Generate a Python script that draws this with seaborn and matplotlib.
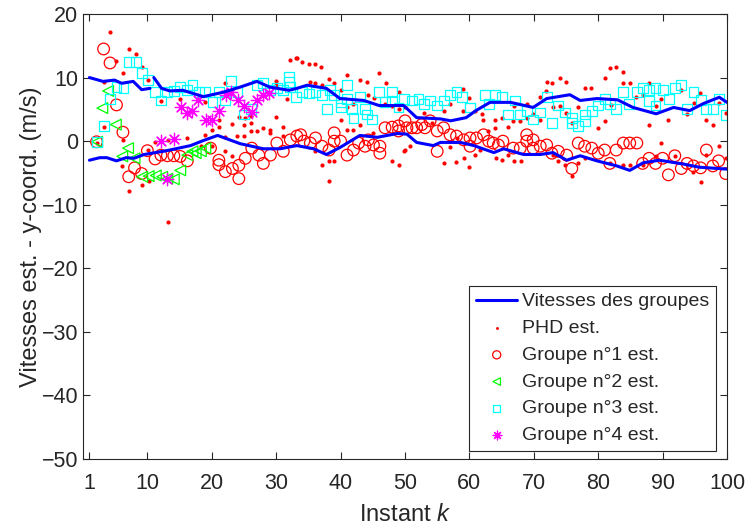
import matplotlib
matplotlib.use("Agg")
import matplotlib.pyplot as plt
import seaborn as sns

# group velocity lines (3 segments)
line_a_k = [1.0, 3.1, 4.9, 6.0, 7.8, 9.1, 10.4]
line_a_y = [10.0, 9.4, 9.6, 9.1, 9.4, 8.1, 8.3]
line_b_k = [11.0, 12.2, 13.5, 15.5, 17.1, 18.7, 21.8, 24.4, 27.0, 29.0, 32.0, 33.2, 34.8, 37.8, 39.9,
            43.6, 46.0, 49.8, 51.8, 55.5, 57.1, 59.5, 61.0, 63.2, 66.4, 69.9, 72.0, 75.6, 77.2, 79.8,
            83.0, 85.4, 89.0, 91.7, 94.2, 96.3, 98.8, 100.0]
line_b_y = [10.0, 8.3, 7.9, 8.0, 7.5, 7.0, 7.7, 8.5, 9.4, 8.5, 8.0, 8.3, 8.8, 8.3, 6.7,
            6.4, 5.6, 5.6, 3.7, 3.5, 3.2, 3.7, 4.8, 6.1, 6.1, 5.3, 6.7, 7.3, 6.4, 6.7,
            6.5, 5.3, 4.3, 5.3, 4.8, 5.9, 6.9, 6.1]
line_c_k = [1.0, 2.6, 3.7, 5.2, 6.7, 7.9, 9.5, 13.0, 16.7, 18.7, 20.9, 24.4, 28.0, 30.6, 33.2,
            35.8, 37.8, 39.9, 43.0, 45.7, 48.8, 50.3, 51.8, 54.4, 55.5, 58.6, 60.7, 63.8, 65.3,
            68.4, 71.0, 73.0, 75.1, 77.2, 79.8, 82.9, 84.9, 87.0, 89.5, 93.2, 95.7, 100.0]
line_c_y = [-3.0, -2.6, -2.6, -3.1, -2.6, -2.7, -2.1, -1.5, -0.7, 0.1, 0.9, -0.4, -1.2, -1.2, -0.7,
            -1.2, -2.1, -1.0, 0.9, 0.6, 1.2, 1.1, -0.2, -0.7, -0.2, -0.2, -0.7, -1.8, -1.2,
            -2.1, -2.1, -1.8, -3.0, -2.3, -3.1, -3.9, -4.6, -3.4, -3.0, -3.6, -4.1, -4.4]

# PHD estimates
phd_k = [4.2, 7.1, 8.2, 5.2, 9.2, 6.2, 3.2, 10.1, 12.1, 15.1, 3.2, 6.2, 2.1, 11.2, 13.2, 16.2, 10.1, 6.1,
         9.2, 7.1, 10.2, 13.2,
         32.2, 33.1, 22.1, 30.0, 30.0, 19.0, 31.7, 24.2, 26.1, 25.2, 21.1, 21.1, 20.1, 23.2, 25.0, 26.1,
         30.0, 31.0, 28.0, 29.1, 27.0, 26.1, 19.0, 22.1, 23.9, 25.0, 31.1, 23.2, 22.1, 18.3, 20.1, 29.1,
         33.3, 34.0, 35.1, 36.1, 37.0, 35.3, 36.1, 37.1, 38.2, 39.0, 41.0, 43.0, 44.1, 46.0, 47.1, 49.0,
         44.3, 45.2, 46.9, 48.0, 49.0, 40.0, 41.0, 42.0, 43.0, 40.0, 41.0, 42.0, 45.0, 50.0, 48.0, 49.0,
         37.1, 38.2, 39.0, 36.1, 38.2,
         59.0, 60.0, 50.0, 52.9, 56.0, 57.0, 59.0, 60.9, 61.9, 62.1, 64.0, 65.0, 66.0, 54.2, 62.9, 64.0,
         50.8, 49.8, 57.0, 64.1, 65.0, 59.1, 60.9, 56.0, 57.9, 60.0, 61.6, 66.0, 58.0,
         81.8, 82.8, 81.0, 72.0, 72.9, 74.0, 75.0, 71.9, 77.9, 78.9, 71.0, 68.9, 66.9, 66.8, 67.9, 68.9,
         69.8, 70.9, 73.0, 74.0, 75.0, 76.0, 76.9, 79.9, 81.0, 82.0, 66.9, 68.0, 73.8, 74.8, 76.9, 75.9,
         77.9, 81.8, 73.0,
         83.9, 83.9, 84.9, 87.9, 85.9, 86.9, 88.9, 89.8, 92.8, 94.8, 95.8, 90.9, 87.9, 93.8, 96.8, 97.8,
         98.8, 99.8, 89.8, 83.9, 84.9, 86.9, 88.9, 91.9, 94.7, 95.9, 98.8, 96.8, 99.8]
phd_y = [17.1, 14.5, 13.7, 12.6, 11.7, 10.7, 9.3, 9.6, 6.3, 6.6, 2.2, 0.2, -0.3, -0.1, 0.2, 0.5, -1.4, -3.9,
         -6.9, -7.8, -6.3, -12.7,
         12.7, 13.1, 9.1, 9.5, 8.8, 6.1, 6.6, 3.8, 4.0, 3.7, 3.3, 2.2, 1.8, 2.7, 2.5, 2.9,
         3.8, 2.2, 2.1, 1.8, 1.6, 1.6, 0.9, 0.6, 0.8, 0.8, 0.8, -2.4, -1.5, -0.7, -0.7, 1.3,
         13.1, 12.5, 12.1, 12.2, 11.7, 9.3, 9.1, 8.8, 9.7, 9.1, 10.4, 9.6, 9.3, 10.7, 9.1, 7.8,
         7.2, 6.8, 5.8, 5.6, 5.0, 8.1, 5.3, 5.8, 2.6, 3.3, 1.8, 1.8, 1.3, -1.4, -3.2, -3.7,
         -3.8, -3.1, -3.2, -1.6, -6.2,
         8.2, 6.8, 5.3, 4.5, 4.8, 5.8, 4.8, 4.8, 4.2, 3.4, 3.3, 3.7, 2.2, 2.9, 1.6, 2.1,
         -0.8, -1.5, -1.0, -2.7, -3.0, -2.6, -2.2, -3.5, -3.3, -4.0, -1.4, -2.2, 0.5,
         11.5, 11.7, 9.9, 9.3, 9.2, 9.9, 9.3, 7.9, 8.3, 8.3, 6.9, 5.8, 5.6, 3.2, 3.1, 3.7,
         4.2, 3.4, 5.3, 5.6, 4.5, 2.9, 5.4, 2.0, 3.2, 5.7, -3.2, -3.2, -3.2, -3.8, -3.5, -5.5,
         -2.7, -3.5, -2.2,
         10.9, 9.1, 9.1, 9.1, 6.9, 7.2, 5.6, 6.6, 8.1, 6.0, 7.5, 3.3, 2.5, 4.3, 3.4, 2.5,
         6.0, 4.5, -0.3, -3.8, -3.7, -3.8, -2.4, -2.3, -4.8, -6.4, -0.8, -2.2, -2.6]

# group 1 estimates
g1_k = [2.1, 3.2, 4.2, 5.2, 6.2, 7.1, 8.0, 9.1, 10.0, 11.2, 12.1, 13.1, 14.1, 15.1, 16.2,
        19.8, 21.1, 21.1, 22.1, 23.2, 24.2, 24.2, 25.2, 26.2, 27.3, 28.0, 29.1, 30.1, 31.1, 32.2, 33.2,
        33.8, 34.3, 35.3, 36.1, 37.1, 38.2, 39.0, 39.0, 40.0, 41.0, 42.0, 42.8, 43.8, 44.3, 45.1, 46.1,
        46.1, 46.9, 48.0, 49.0, 50.0, 49.0,
        50.3, 51.1, 51.8, 52.6, 53.1, 53.9, 55.0, 55.0, 56.0, 57.0, 58.0, 59.1, 60.1, 61.1, 62.2, 63.0,
        63.7, 64.5, 65.2, 60.1,
        66.8, 67.9, 68.9, 68.9, 69.9, 69.9, 71.0, 72.0, 72.8, 73.8, 75.1, 75.9, 76.9, 77.9, 79.0, 80.0,
        81.0, 81.8, 82.8,
        83.9, 84.9, 86.0, 86.9, 87.9, 88.9, 90.0, 90.9, 91.9, 92.9, 93.8, 94.8, 95.9, 96.8, 97.8, 98.7,
        99.8]
g1_y = [-0.1, 14.5, 12.3, 5.7, 1.4, -5.6, -4.2, -5.1, -1.5, -2.8, -2.2, -2.3, -2.3, -2.4, -3.1,
        -1.1, -3.0, -3.7, -4.8, -4.3, -3.8, -5.9, -2.7, -1.1, -2.2, -3.5, -2.2, -0.3, -1.6, 0.2, 0.8,
        1.0, 0.0, -0.3, 0.5, -0.8, -1.4, 1.3, 0.0, 0.0, -2.2, -1.4, -0.3, -0.8, 0.2, -0.6, -0.8,
        -1.9, 2.1, 2.2, 2.4, 3.2, 1.6,
        2.1, 2.1, 2.1, 2.6, 2.1, 3.2, 1.6, -1.6, 2.1, 1.0, 0.8, 0.2, 0.5, 0.5, 1.0, 0.0,
        -0.3, -0.6, 0.0, -0.8,
        -1.1, -1.1, 1.0, 0.0, 0.2, -1.1, -0.8, -0.6, -1.9, -1.6, -2.2, -4.3, -0.3, -0.8, -1.1, -1.9,
        -1.4, -3.5, -1.4,
        -0.3, -0.3, -0.3, -3.5, -2.7, -3.5, -2.7, -5.3, -2.3, -4.3, -3.5, -3.9, -4.2, -1.4, -3.9, -3.1,
        -5.1]

# group 2 estimates
g2_k = [2.2, 3.0, 3.9, 5.1, 6.1, 7.0, 8.0, 9.2, 10.2, 11.3, 12.3, 13.1, 14.1, 15.1, 16.2, 17.0, 17.5,
        18.3, 19.0]
g2_y = [-0.1, 5.2, 7.9, 2.6, -2.4, -1.1, -2.7, -5.6, -5.5, -5.4, -5.6, -5.9, -6.0, -4.6, -2.2, -1.6,
        -1.9, -1.6, -1.1]

# group 3 estimates
g3_k = [2.2, 3.2, 4.2, 5.2, 6.3, 7.1, 8.2, 9.2, 10.1, 11.2, 12.1, 13.1, 14.1, 15.1, 16.2,
        17.0, 18.0, 19.0, 20.1, 21.1, 22.1, 23.0, 24.0, 25.0, 26.1, 27.0, 28.0, 29.1, 30.1, 31.1, 32.0,
        32.0, 32.2, 33.1,
        34.0, 35.1, 36.1, 37.1, 37.9, 38.4, 39.0, 40.0, 40.0, 41.0, 41.0, 41.8, 42.0, 43.0, 43.8, 44.1,
        44.9, 45.9, 46.9, 48.0, 48.0, 49.0,
        49.8, 51.1, 52.1, 52.9, 53.9, 55.0, 56.0, 57.0, 58.0, 58.8, 60.1, 62.4, 63.0, 64.0, 65.0, 66.0,
        67.1, 67.9, 68.9, 69.9, 71.0, 72.0, 72.8, 73.8, 74.8, 75.9, 75.9, 76.9, 77.9, 77.9, 79.0, 80.0,
        81.0, 81.8, 82.8,
        83.8, 84.8, 86.0, 86.9, 87.9, 87.9, 88.9, 88.9, 90.0, 91.0, 91.9, 92.8, 93.8, 94.8, 95.9, 96.8,
        97.8, 98.7, 99.8]
g3_y = [-0.1, 2.4, 6.6, 8.5, 8.3, 12.4, 12.4, 10.7, 9.6, 7.7, 6.4, 7.7, 7.9, 8.5, 8.0,
        8.8, 7.7, 7.7, 6.1, 7.7, 6.4, 9.5, 7.7, 4.2, 5.0, 8.8, 9.1, 8.0, 8.3, 8.0, 10.1,
        9.3, 8.5, 6.9,
        7.7, 7.5, 7.7, 7.2, 5.0, 8.0, 7.2, 5.3, 6.1, 8.8, 6.6, 5.0, 3.7, 6.9, 5.0, 4.2,
        3.4, 7.7, 6.1, 7.7, 6.4, 5.3,
        6.6, 6.4, 6.6, 5.8, 6.4, 5.6, 6.4, 7.2, 7.7, 6.9, 5.3, 7.2, 5.8, 7.2, 6.9, 4.2,
        6.4, 4.2, 4.7, 3.4, 4.5, 6.9, 2.9, 5.6, 4.5, 3.7, 2.9, 2.4, 3.2, 4.2, 4.8, 5.6,
        6.6, 5.8, 5.0,
        7.7, 5.8, 7.7, 8.3, 8.1, 6.3, 8.3, 5.6, 8.0, 6.6, 8.3, 8.8, 5.0, 7.7, 6.5, 5.0,
        5.0, 6.6, 4.1]

# group 4 estimates
g4_k = [12.1, 13.0, 14.1, 15.2, 16.2, 16.9, 17.9, 19.1, 20.1, 21.1, 22.2, 23.0, 24.0, 25.0, 26.3,
        27.0, 28.0, 28.9]
g4_y = [0.1, -6.0, 0.3, 5.3, 4.5, 4.7, 6.4, 3.4, 3.3, 4.8, 7.2, 7.7, 6.4, 5.6, 4.6,
        6.4, 7.2, 7.5]

xticks = [1, 10, 20, 30, 40, 50, 60, 70, 80, 90, 100]
yticks = [-50, -40, -30, -20, -10, 0, 10, 20]

sns.set_style("ticks")
plt.rcParams["font.family"] = ["Liberation Sans", "DejaVu Sans"]
plt.rcParams["mathtext.fontset"] = "custom"
plt.rcParams["mathtext.it"] = "Liberation Sans:italic"
plt.rcParams["mathtext.rm"] = "Liberation Sans"
dark = "#262626"

fig = plt.figure(figsize=(7.47, 5.31), dpi=100)
ax = fig.add_axes([83 / 747, 1 - 459 / 531, 644 / 747, 445 / 531])

for i, (lk, ly) in enumerate([(line_a_k, line_a_y), (line_b_k, line_b_y), (line_c_k, line_c_y)]):
    sns.lineplot(x=lk, y=ly, ax=ax, color="blue", lw=2.2, sort=False, estimator=None,
                 label="Vitesses des groupes" if i == 0 else "_nolegend_")

sns.scatterplot(x=phd_k, y=phd_y, ax=ax, color="red", marker="o", s=9, linewidth=0,
                label="PHD est.")
sns.scatterplot(x=g1_k, y=g1_y, ax=ax, color="red", marker="o", s=70, facecolor="none",
                edgecolor="red", linewidth=0.9, label="Groupe n°1 est.")
sns.scatterplot(x=g2_k, y=g2_y, ax=ax, color="#00ff00", marker="<", s=60, facecolor="none",
                edgecolor="#00ff00", linewidth=0.9, label="Groupe n°2 est.")
sns.scatterplot(x=g3_k, y=g3_y, ax=ax, color="cyan", marker="s", s=50, facecolor="none",
                edgecolor="cyan", linewidth=0.9, label="Groupe n°3 est.")
sns.scatterplot(x=g4_k, y=g4_y, ax=ax, color="magenta", marker=(8, 2, 0), s=80,
                linewidth=0.9, label="Groupe n°4 est.")

ax.set_xlim(0, 100)
ax.set_ylim(-50, 20)
ax.set_xticks(xticks)
ax.set_yticks(yticks)
ax.tick_params(direction="in", top=True, right=True, length=5, width=0.8,
               colors=dark, labelsize=15.5)
ax.tick_params(axis="x", pad=10)
ax.tick_params(axis="y", pad=3.5)
for sp in ax.spines.values():
    sp.set_visible(True)
    sp.set_color(dark)
    sp.set_linewidth(0.8)

ax.set_xlabel("Instant $k$", fontsize=17, color=dark, labelpad=7)
ax.set_ylabel("Vitesses est. - y-coord. (m/s)", fontsize=17, color=dark, labelpad=0)

handles, labels = ax.get_legend_handles_labels()
leg = ax.legend(handles, labels, loc="lower right", bbox_to_anchor=(0.983, 0.018),
                borderaxespad=0, fontsize=14, frameon=True, fancybox=False,
                edgecolor=dark, framealpha=1, handlelength=2.1, handletextpad=0.25,
                labelspacing=0.47, borderpad=0.35, markerscale=0.7, scatterpoints=1)
leg.get_frame().set_linewidth(0.8)
for t in leg.get_texts():
    t.set_color(dark)

fig.savefig("out.png", dpi=100)
